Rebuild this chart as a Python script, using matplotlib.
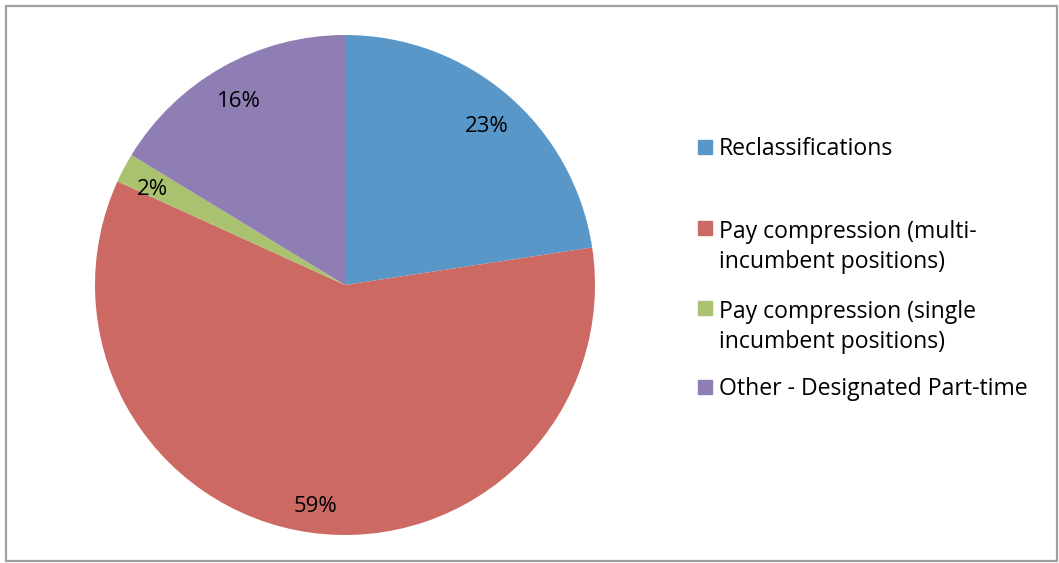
import matplotlib.pyplot as plt
from matplotlib.patches import Rectangle
from matplotlib.transforms import offset_copy

plt.rcParams['font.family'] = ['Open Sans', 'DejaVu Sans']

# ── Data ──────────────────────────────────────────────────────────────────────
labels = ['Reclassifications',
          'Pay compression (multi-\nincumbent positions)',
          'Pay compression (single\nincumbent positions)',
          'Other - Designated Part-time']
shares = [22.6, 59.2, 1.9, 16.3]
colors = ['#5A97C9', '#CD6963', '#AAC16F', '#8F7EB4']

W, H = 1059, 563

fig = plt.figure(figsize=(W / 100, H / 100), dpi=100)

# pie centred at (345, 285) px, radius 250 px
cx, cy, r = 345, 285, 250
ax = fig.add_axes([(cx - r) / W, (H - cy - r) / H, 2 * r / W, 2 * r / H])
wedges, _, autotexts = ax.pie(
    shares, colors=colors, startangle=90, counterclock=False,
    autopct=lambda p: f'{p:.0f}%', pctdistance=0.87,
    wedgeprops=dict(linewidth=0),
    textprops=dict(fontsize=16, color='black'))
# nudge the percentages down a little, as in the original
for t in autotexts:
    t.set_transform(offset_copy(ax.transData, fig=fig, y=-6, units='dots'))
ax.set_xlim(-1, 1)
ax.set_ylim(-1, 1)
ax.set_aspect('equal')
ax.axis('off')

# ── Legend (drawn by hand to match the spacing) ───────────────────────────────
# first-line baselines in px; multi-line text is anchored on its last line
baselines = [155, 236, 316, 395]
line_px = 32
for lab, col, yb in zip(labels, colors, baselines):
    fig.patches.append(Rectangle((698 / W, 1 - (yb - 1) / H), 14 / W, 14 / H,
                                 transform=fig.transFigure, color=col))
    y_last = yb + line_px * lab.count('\n')
    fig.text(719 / W, 1 - y_last / H, lab, fontsize=16.6, va='baseline',
             ha='left', linespacing=1.35)

# outer frame
fig.patches.append(Rectangle((6 / W, 2 / H), 1051 / W, 555 / H,
                             transform=fig.transFigure, fill=False,
                             edgecolor='#A0A0A0', linewidth=1.6))

fig.savefig('out.png', dpi=100)
